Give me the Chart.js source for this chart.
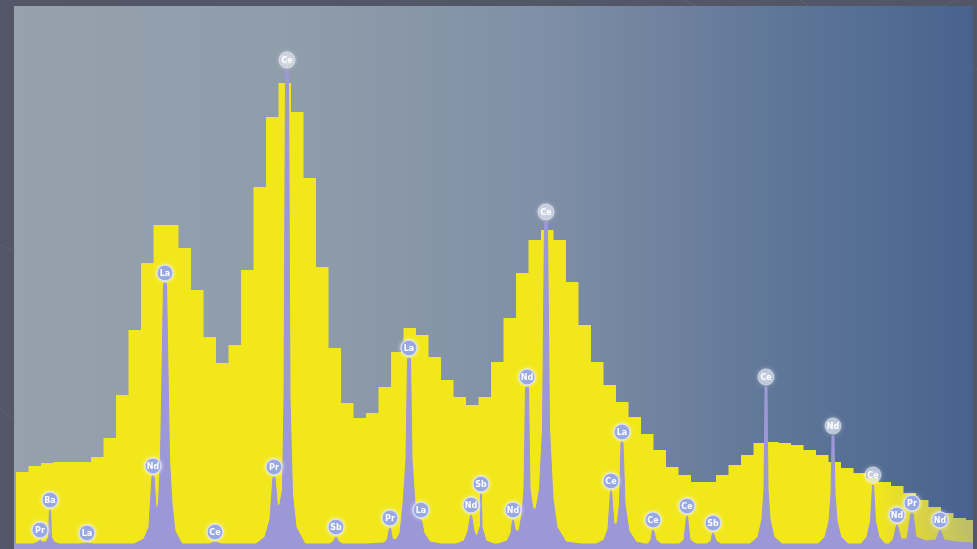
<!DOCTYPE html>
<html>
<head>
<meta charset="utf-8">
<script src="https://cdn.jsdelivr.net/npm/chart.js@4/dist/chart.umd.min.js"></script>
<style>
  html, body { margin: 0; padding: 0; background: #535667; }
  canvas { display: block; }
</style>
</head>
<body>
<canvas id="spectrum" width="977" height="549"></canvas>
<script>
// Coarse histogram: counts summed over bins of 25 channels
const binWidth = 25;
const binCounts = [
   77,  83,  86,  87,  87,  87,  92, 111, 154, 219,
  286, 324, 324, 301, 259, 212, 186, 204, 279, 362,
  432, 466, 437, 371, 282, 201, 146, 131, 136, 162,
  197, 221, 214, 192, 169, 152, 144, 152, 187, 231,
  276, 309, 319, 309, 267, 224, 187, 164, 147, 132,
  115,  99,  82,  74,  67,  67,  74,  84,  94, 106,
  107, 106, 104,  99,  94,  87,  81,  76,  71,  67,
   63,  56,  49,  42,  36,  31,  29
];

// Fine trace: channel positions and counts of the high-resolution spectrum
const traceChannel = [
  -4,
  34, 44, 47, 49, 52, 60, 65, 67, 69, 71, 76, 86,
  128, 140, 144, 156,
  236, 256, 266, 272, 276, 280, 285, 289, 295, 301, 307, 312, 318, 332,
  386, 395, 397, 399, 401, 410,
  480, 498, 508, 514, 518, 523, 528, 533, 536, 539, 545, 548, 553, 560, 578,
  628, 636, 639, 641, 644, 652,
  700, 736, 743, 747, 749, 753, 760, 768, 774, 780, 783, 789, 792, 798, 804, 809, 811, 816, 828, 850,
  880, 896, 904, 909, 911, 916, 922, 928, 929, 931, 932, 940, 956,
  964, 982, 990, 993, 995, 999, 1006, 1012, 1016, 1019, 1025, 1028, 1034, 1040, 1047, 1053, 1057, 1063, 1067, 1074, 1082, 1100, 1130,
  1160, 1176, 1184, 1189, 1191, 1196, 1202, 1207, 1210, 1214, 1218, 1226, 1240, 1258,
  1264, 1270, 1273, 1275, 1280, 1290,
  1326, 1336, 1341, 1343, 1348, 1360,
  1382, 1390, 1393, 1395, 1400, 1410,
  1468, 1484, 1492, 1496, 1498, 1502, 1504, 1508, 1516, 1532,
  1604, 1618, 1626, 1630, 1632, 1636, 1638, 1642, 1650, 1664,
  1690, 1702, 1709, 1713, 1715, 1719, 1726, 1738,
  1746, 1755, 1761, 1763, 1770, 1782, 1790, 1794, 1800, 1820, 1840, 1847, 1849, 1856, 1880, 1914
];
const traceCounts = [
  5,
  5, 7, 9, 9, 7, 7, 12, 39, 39, 12, 7, 5,
  5, 6, 6, 5,
  5, 10, 22, 73, 73, 40, 45, 90, 266, 266, 90, 45, 18, 5,
  5, 7, 7, 7, 7, 5,
  5, 12, 30, 72, 72, 42, 45, 60, 150, 479, 479, 150, 55, 22, 5,
  5, 8, 12, 12, 8, 5,
  5, 6, 10, 21, 21, 10, 9, 16, 45, 90, 191, 191, 90, 45, 32, 29, 29, 16, 7, 5,
  5, 8, 18, 34, 34, 18, 12, 22, 55, 55, 22, 8, 5,
  5, 8, 16, 29, 29, 18, 18, 35, 60, 162, 162, 60, 40, 40, 60, 120, 327, 327, 120, 50, 22, 7, 5,
  5, 9, 20, 58, 58, 25, 25, 45, 107, 107, 45, 18, 7, 5,
  5, 9, 19, 19, 9, 5,
  5, 9, 33, 33, 9, 5,
  5, 8, 16, 16, 8, 5,
  5, 12, 30, 60, 162, 162, 60, 30, 12, 5,
  5, 12, 28, 55, 113, 113, 55, 28, 12, 5,
  5, 12, 28, 64, 64, 28, 12, 5,
  5, 10, 24, 24, 10, 10, 36, 36, 12, 8, 9, 19, 19, 9, 7, 6
];

// Identified emission lines: channel and element symbol
const lineChannel = [48, 68, 142, 274, 298, 398, 516, 542, 640, 748, 786, 810, 910, 930,
                     994, 1022, 1060, 1190, 1212, 1274, 1342, 1394, 1500, 1634, 1714, 1762, 1792, 1848];
const lineElement = ['Pr', 'Ba', 'La', 'Nd', 'La', 'Ce', 'Pr', 'Ce', 'Sb', 'Pr', 'La', 'La', 'Nd', 'Sb',
                     'Nd', 'Nd', 'Ce', 'Ce', 'La', 'Ce', 'Ce', 'Sb', 'Ce', 'Nd', 'Ce', 'Nd', 'Pr', 'Nd'];

const histogramPoints = binCounts.map((c, i) => ({ x: i * binWidth, y: c }));
histogramPoints.push({ x: binCounts.length * binWidth, y: binCounts[binCounts.length - 1] });
const tracePoints = traceChannel.map((c, i) => ({ x: c, y: traceCounts[i] }));

// Dark frame with faint arcs, and the blue-grey gradient panel behind the plot
const backdrop = {
  id: 'backdrop',
  beforeDraw(chart) {
    const { ctx, chartArea: a, width, height } = chart;
    ctx.save();
    ctx.fillStyle = '#535667';
    ctx.fillRect(0, 0, width, height);
    ctx.strokeStyle = 'rgba(255,255,255,0.07)';
    ctx.lineWidth = 1;
    [[-160, 600, 250], [-120, 520, 300], [820, -300, 330], [1000, -250, 320]].forEach(([cx, cy, r]) => {
      ctx.beginPath();
      ctx.arc(cx, cy, r, 0, Math.PI * 2);
      ctx.stroke();
    });
    const g = ctx.createLinearGradient(a.left, 0, a.right, 0);
    g.addColorStop(0, '#95a1ad');
    g.addColorStop(0.3, '#8f9caa');
    g.addColorStop(0.55, '#7f8fa6');
    g.addColorStop(0.78, '#627899');
    g.addColorStop(1, '#47638e');
    ctx.fillStyle = g;
    ctx.fillRect(a.left, a.top, a.right - a.left, a.bottom - a.top);
    ctx.restore();
  }
};

// Element symbols in small discs above each identified line
const lineLabels = {
  id: 'lineLabels',
  afterDatasetsDraw(chart) {
    const { ctx, scales: { x, y } } = chart;
    ctx.save();
    ctx.font = 'bold 8px "DejaVu Sans"';
    ctx.textAlign = 'center';
    ctx.textBaseline = 'middle';
    lineChannel.forEach((ch, k) => {
      let apex = 0;
      traceChannel.forEach((c, j) => {
        if (Math.abs(c - ch) <= 4) apex = Math.max(apex, traceCounts[j]);
      });
      const cx = x.getPixelForValue(ch);
      const cy = y.getPixelForValue(apex) - 10;
      const bin = Math.min(binCounts.length - 1, Math.floor(ch / binWidth));
      const onBars = cy > y.getPixelForValue(binCounts[bin]);
      ctx.shadowColor = 'rgba(255,255,255,0.85)';
      ctx.shadowBlur = 5;
      ctx.beginPath();
      ctx.arc(cx, cy, 8, 0, Math.PI * 2);
      ctx.fillStyle = onBars ? 'rgb(152,168,226)' : 'rgba(222,228,244,0.55)';
      ctx.fill();
      ctx.shadowBlur = 0;
      ctx.lineWidth = 1.3;
      ctx.strokeStyle = onBars ? 'rgba(225,230,250,0.85)' : 'rgba(255,255,255,0.35)';
      ctx.stroke();
      ctx.fillStyle = '#ffffff';
      ctx.fillText(lineElement[k], cx, cy + 0.5);
    });
    ctx.restore();
  }
};

new Chart(document.getElementById('spectrum'), {
  type: 'line',
  data: {
    datasets: [
      {
        label: 'Trace',
        data: tracePoints,
        order: 0,
        borderColor: '#9c97d6',
        backgroundColor: '#9c97d6',
        borderWidth: 1,
        fill: 'origin',
        pointRadius: 0,
        tension: 0
      },
      {
        label: 'Binned counts',
        data: histogramPoints,
        order: 1,
        stepped: true,
        borderWidth: 0,
        borderColor: 'rgba(0,0,0,0)',
        fill: 'origin',
        pointRadius: 0,
        backgroundColor(context) {
          const { chart } = context;
          const a = chart.chartArea;
          if (!a) return '#f2e71b';
          const g = chart.ctx.createLinearGradient(a.left, 0, a.right, 0);
          g.addColorStop(0, '#f2e71b');
          g.addColorStop(0.9, '#f2e71b');
          g.addColorStop(1, '#bcbd6e');
          return g;
        }
      }
    ]
  },
  options: {
    responsive: false,
    animation: false,
    devicePixelRatio: 1,
    layout: { padding: { left: 14, right: 4, top: 6, bottom: 0 } },
    scales: {
      x: { type: 'linear', min: -4, max: 1914, display: false },
      y: { min: 0, max: 543, display: false }
    },
    plugins: {
      legend: { display: false },
      tooltip: { enabled: false }
    }
  },
  plugins: [backdrop, lineLabels]
});
</script>
</body>
</html>
